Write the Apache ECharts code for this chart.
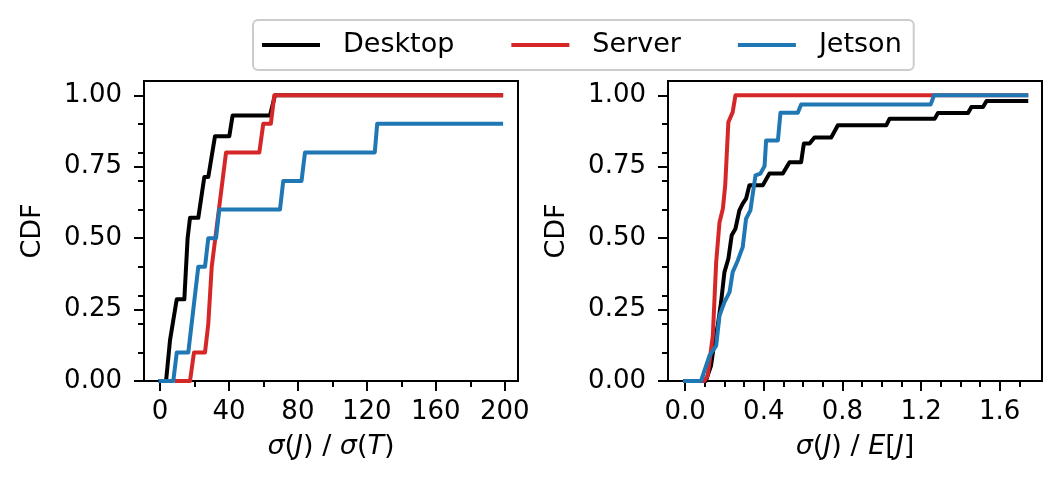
<!DOCTYPE html>
<html>
<head>
<meta charset="utf-8">
<script src="https://cdn.jsdelivr.net/npm/echarts@6/dist/echarts.min.js"></script>
<style>
html,body{margin:0;padding:0;background:#fff;}
#chart{width:1063px;height:486px;}
</style>
</head>
<body>
<div id="chart"></div>
<script>
// ---- data (x, CDF) ----
const seriesNames = ['Desktop', 'Server', 'Jetson'];
const seriesColors = ['#000000', '#d62728', '#1f77b4'];

const leftDesktop = [[0.3,0],[3.5,0],[5.8,0.143],[9.7,0.286],[14.1,0.286],[16,0.5],[17.4,0.571],[22.2,0.571],[25.7,0.714],[28,0.714],[31.9,0.857],[40.2,0.857],[42.1,0.929],[63.8,0.929],[66.7,1],[197.9,1]];
const leftServer = [[9.7,0],[17.4,0],[19.7,0.1],[26.1,0.1],[28,0.2],[30,0.4],[38.3,0.8],[57.6,0.8],[59.9,0.9],[64.3,0.9],[66.3,1],[197.9,1]];
const leftJetson = [[0.3,0],[7.7,0],[9.7,0.1],[16.4,0.1],[22.2,0.4],[26.1,0.4],[28,0.5],[32.5,0.5],[34.4,0.6],[69.6,0.6],[71.5,0.7],[82.1,0.7],[84.1,0.8],[124.6,0.8],[126,0.9],[197.9,0.9]];

const rightDesktop = [[0,0],[0.105,0],[0.132,0.054],[0.149,0.136],[0.166,0.194],[0.183,0.276],[0.2,0.381],[0.22,0.428],[0.237,0.51],[0.256,0.533],[0.276,0.597],[0.293,0.621],[0.31,0.638],[0.327,0.685],[0.395,0.685],[0.429,0.726],[0.497,0.726],[0.531,0.766],[0.59,0.766],[0.604,0.831],[0.633,0.831],[0.658,0.852],[0.743,0.852],[0.777,0.895],[1.023,0.895],[1.04,0.918],[1.269,0.918],[1.286,0.938],[1.439,0.938],[1.456,0.959],[1.515,0.959],[1.533,0.98],[1.735,0.98]];
const rightServer = [[0,0],[0.098,0],[0.115,0.019],[0.141,0.159],[0.158,0.416],[0.175,0.556],[0.192,0.603],[0.204,0.685],[0.22,0.906],[0.242,0.941],[0.256,1],[1.735,1]];
const rightJetson = [[0,0],[0.081,0],[0.124,0.089],[0.158,0.124],[0.175,0.229],[0.2,0.276],[0.226,0.311],[0.242,0.381],[0.268,0.422],[0.293,0.469],[0.31,0.568],[0.332,0.597],[0.358,0.72],[0.383,0.726],[0.404,0.752],[0.412,0.842],[0.472,0.842],[0.485,0.939],[0.573,0.939],[0.59,0.968],[1.249,0.968],[1.266,1],[1.735,1]];

// ---- tick values ----
const xTicksLeft = [0, 40, 80, 120, 160, 200];
const xMinorLeft = [20, 60, 100, 140, 180];
const xTicksRight = [0, 0.4, 0.8, 1.2, 1.6];
const xMinorRight = [0.1, 0.2, 0.3, 0.5, 0.6, 0.7, 0.9, 1.0, 1.1, 1.3, 1.4, 1.5, 1.7];
const yTicks = [0, 0.25, 0.5, 0.75, 1.0];
const yMinor = [0.1, 0.2, 0.3, 0.4, 0.6, 0.7, 0.8, 0.9];
const xLimLeft = [-9.3, 207.7];
const xLimRight = [-0.087, 1.815];
const yLim = [0, 1.05];

const FONT = 'DejaVu Sans';
const chart = echarts.init(document.getElementById('chart'), null, {renderer: 'canvas'});

const nameRich = {
  i: {fontFamily: FONT, fontStyle: 'italic', fontSize: 27, color: '#000'},
  n: {fontFamily: FONT, fontSize: 27, color: '#000'}
};

function mainX(gridIndex, lim, ticks, fmt, name) {
  return {
    type: 'value', gridIndex, min: lim[0], max: lim[1],
    name, nameLocation: 'middle', nameGap: 52,
    nameTextStyle: {fontFamily: FONT, fontSize: 27, color: '#000', rich: nameRich},
    axisLine: {show: true, onZero: false, lineStyle: {color: '#000', width: 2}},
    axisTick: {show: true, customValues: ticks, length: 10, lineStyle: {color: '#000', width: 2}},
    axisLabel: {show: true, customValues: ticks, formatter: fmt, margin: 18,
      fontFamily: FONT, fontSize: 26, color: '#000'},
    splitLine: {show: false}
  };
}
function minorX(gridIndex, lim, ticks) {
  return {
    type: 'value', gridIndex, min: lim[0], max: lim[1], position: 'bottom',
    axisLine: {show: false, onZero: false},
    axisTick: {show: true, customValues: ticks, length: 6, lineStyle: {color: '#000', width: 2}},
    axisLabel: {show: false},
    splitLine: {show: false}
  };
}
function mainY(gridIndex) {
  return {
    type: 'value', gridIndex, min: yLim[0], max: yLim[1],
    name: 'CDF', nameLocation: 'middle', nameGap: 98, nameRotate: 90,
    nameTextStyle: {fontFamily: FONT, fontSize: 27, color: '#000'},
    axisLine: {show: true, onZero: false, lineStyle: {color: '#000', width: 2}},
    axisTick: {show: true, customValues: yTicks, length: 10, lineStyle: {color: '#000', width: 2}},
    axisLabel: {show: true, customValues: yTicks, formatter: v => v.toFixed(2), margin: 22,
      fontFamily: FONT, fontSize: 26, color: '#000'},
    splitLine: {show: false}
  };
}
function minorY(gridIndex) {
  return {
    type: 'value', gridIndex, min: yLim[0], max: yLim[1], position: 'left',
    axisLine: {show: false, onZero: false},
    axisTick: {show: true, customValues: yMinor, length: 6, lineStyle: {color: '#000', width: 2}},
    axisLabel: {show: false},
    splitLine: {show: false}
  };
}

const leftData = [leftDesktop, leftServer, leftJetson];
const rightData = [rightDesktop, rightServer, rightJetson];
const series = [];
[leftData, rightData].forEach((group, g) => {
  group.forEach((d, k) => {
    series.push({
      type: 'line', name: seriesNames[k], data: d,
      xAxisIndex: g * 2, yAxisIndex: g * 2,
      showSymbol: false, symbol: 'none', clip: true,
      lineStyle: {color: seriesColors[k], width: 4, join: 'round', cap: 'square'},
      itemStyle: {color: seriesColors[k]},
      z: 3 + k
    });
  });
});

chart.setOption({
  animation: false,
  backgroundColor: '#fff',
  legend: {
    data: seriesNames.map(n => ({name: n, icon: 'rect'})),
    left: 253, top: 20,
    orient: 'horizontal',
    itemWidth: 58, itemHeight: 4, itemGap: 57,
    padding: [10, 12, 10, 9],
    borderColor: '#cccccc', borderWidth: 2, borderRadius: 5,
    backgroundColor: '#fff',
    textStyle: {fontFamily: FONT, fontSize: 27, color: '#000', padding: [0, 0, 0, 18], lineHeight: 30}
  },
  grid: [
    {left: 144, top: 81, width: 374, height: 300, show: true, borderColor: '#000', borderWidth: 2, backgroundColor: 'transparent'},
    {left: 668, top: 81, width: 374, height: 300, show: true, borderColor: '#000', borderWidth: 2, backgroundColor: 'transparent'}
  ],
  xAxis: [
    mainX(0, xLimLeft, xTicksLeft, v => String(Math.round(v)), '{i|σ}{n|(}{i|J}{n|) / }{i|σ}{n|(}{i|T}{n|)}'),
    minorX(0, xLimLeft, xMinorLeft),
    mainX(1, xLimRight, xTicksRight, v => v.toFixed(1), '{i|σ}{n|(}{i|J}{n|) / }{i|E}{n|[}{i|J}{n|]}'),
    minorX(1, xLimRight, xMinorRight)
  ],
  yAxis: [mainY(0), minorY(0), mainY(1), minorY(1)],
  series
});
</script>
</body>
</html>
